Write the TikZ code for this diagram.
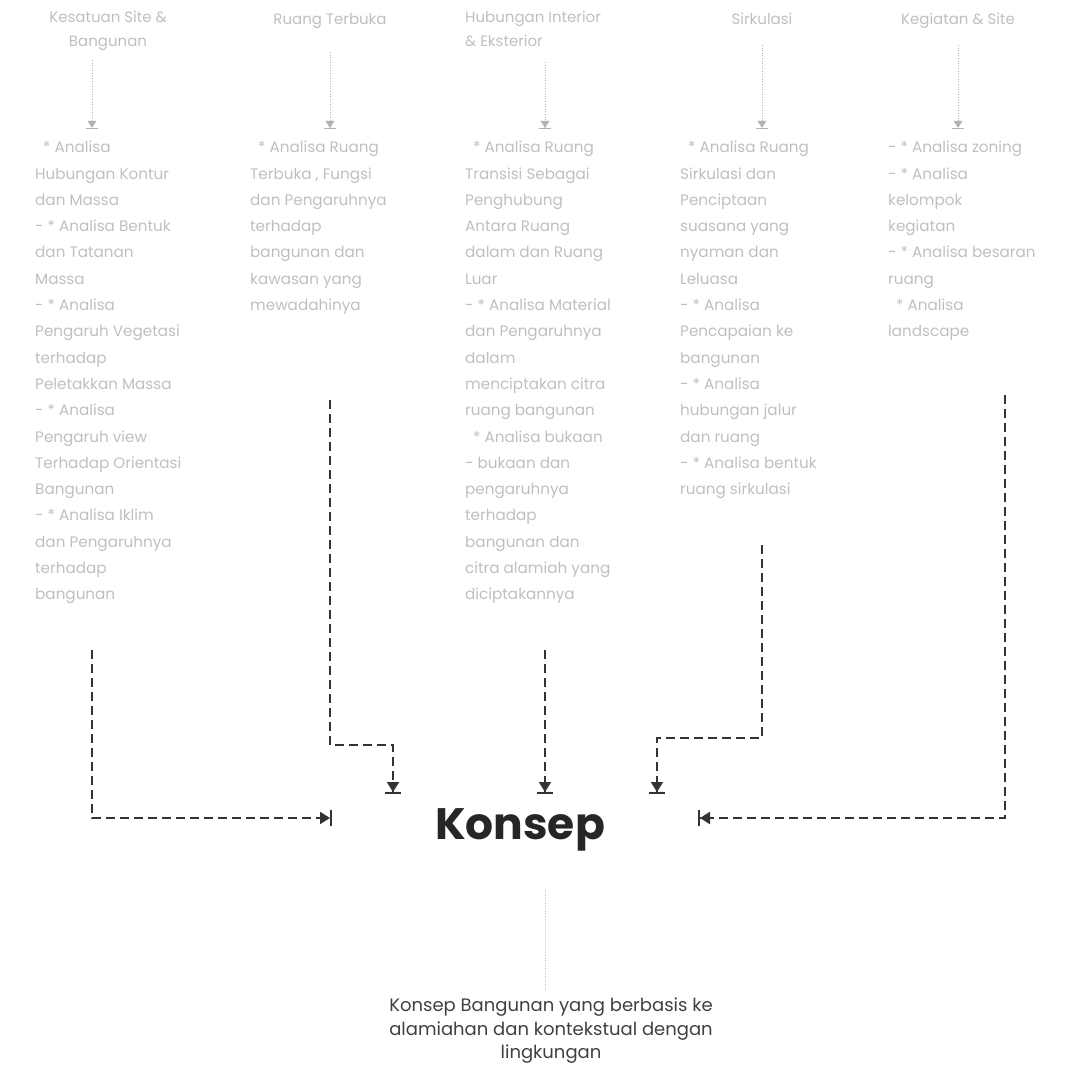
\documentclass[tikz,border=0pt]{standalone}
\usepackage{fontspec}
\setmainfont{Poppins}
\usetikzlibrary{arrows.meta}
\begin{document}
\begin{tikzpicture}[x=1pt,y=-1pt,
  body/.style={anchor=north west, inner sep=0pt, align=left, font=\fontsize{15.2}{26.3}\selectfont, text=gray!50},
  head/.style={anchor=north, inner sep=0pt, align=center, font=\fontsize{15}{24}\selectfont, text=gray!50},
  thin/.style={gray!60, line width=0.6pt, dotted, -{Triangle[length=7pt,width=9pt]Bar[width=12pt,line width=1.2pt]}},
  conn/.style={black!80, line width=1.8pt, dash pattern=on 9pt off 5pt},
  tipd/.style={-{Triangle[length=10pt,width=12pt]Bar[width=16pt,line width=2pt]}}]
\useasboundingbox (0,0) rectangle (1072,1069);
% headers
\node[head] (h1) at (108,11) {Kesatuan Site \&\\Bangunan};
\node[head] (h2) at (330,13) {Ruang Terbuka};
\node[head, anchor=north west, align=left] (h3) at (465,11) {Hubungan Interior\\\& Eksterior};
\node[head] (h4) at (762,13) {Sirkulasi};
\node[head] (h5) at (958,13) {Kegiatan \& Site};
% bodies
\node[body] (b1) at (35,141) {\hspace*{8pt}* Analisa\\Hubungan Kontur\\dan Massa\\- * Analisa Bentuk\\dan Tatanan\\Massa\\- * Analisa\\Pengaruh Vegetasi\\terhadap\\Peletakkan Massa\\- * Analisa\\Pengaruh view\\Terhadap Orientasi\\Bangunan\\- * Analisa Iklim\\dan Pengaruhnya\\terhadap\\bangunan};
\node[body] (b2) at (250,141) {\hspace*{8pt}* Analisa Ruang\\Terbuka , Fungsi\\dan Pengaruhnya\\terhadap\\bangunan dan\\kawasan yang\\mewadahinya};
\node[body] (b3) at (465,141) {\hspace*{8pt}* Analisa Ruang\\Transisi Sebagai\\Penghubung\\Antara Ruang\\dalam dan Ruang\\Luar\\- * Analisa Material\\dan Pengaruhnya\\dalam\\menciptakan citra\\ruang bangunan\\\hspace*{8pt}* Analisa bukaan\\- bukaan dan\\pengaruhnya\\terhadap\\bangunan dan\\citra alamiah yang\\diciptakannya};
\node[body] (b4) at (680,141) {\hspace*{8pt}* Analisa Ruang\\Sirkulasi dan\\Penciptaan\\suasana yang\\nyaman dan\\Leluasa\\- * Analisa\\Pencapaian ke\\bangunan\\- * Analisa\\hubungan jalur\\dan ruang\\- * Analisa bentuk\\ruang sirkulasi};
\node[body] (b5) at (888,141) {- * Analisa zoning\\- * Analisa\\kelompok\\kegiatan\\- * Analisa besaran\\ruang\\\hspace*{8pt}* Analisa\\landscape};
% center
\node[inner sep=0pt, font=\fontsize{44}{50}\selectfont\bfseries, text=black!85] (k) at (520,830) {Konsep};
\node[inner sep=0pt, align=center, font=\fontsize{18}{23.5}\selectfont, text=black!75] (f) at (551,1031) {Konsep Bangunan yang berbasis ke\\alamiahan dan kontekstual dengan\\lingkungan};
% header connectors
\coordinate (t1) at (92,60); \coordinate (a1) at (92,129);
\coordinate (t2) at (330,52); \coordinate (a2) at (330,129);
\coordinate (t3) at (545,62); \coordinate (a3) at (545,129);
\coordinate (t4) at (762,45); \coordinate (a4) at (762,129);
\coordinate (t5) at (958,45); \coordinate (a5) at (958,129);
\foreach \i in {1,...,5} {\draw[thin] (t\i) -- (a\i);}
% main connectors
\coordinate (s1) at (92,650); \coordinate (e1) at (332,818);
\draw[conn, tipd] (s1) |- (e1);
\coordinate (s2) at (330,400); \coordinate (m2) at (393,745); \coordinate (e2) at (393,794);
\draw[conn, tipd] (s2) |- (m2) -- (e2);
\coordinate (s3) at (545,650); \coordinate (e3) at (545,794);
\draw[conn, tipd] (s3) -- (e3);
\coordinate (s4) at (762,545); \coordinate (m4) at (657,738); \coordinate (e4) at (657,794);
\draw[conn, tipd] (s4) |- (m4) -- (e4);
\coordinate (s5) at (1005,395); \coordinate (e5) at (698,818);
\draw[conn, tipd, line width=2.2pt] (s5) |- (e5);
% bottom
\coordinate (bt) at (545,890); \coordinate (bb) at (545,990);
\draw[gray!50, line width=0.6pt, dotted] (bt) -- (bb);
\end{tikzpicture}
\end{document}
